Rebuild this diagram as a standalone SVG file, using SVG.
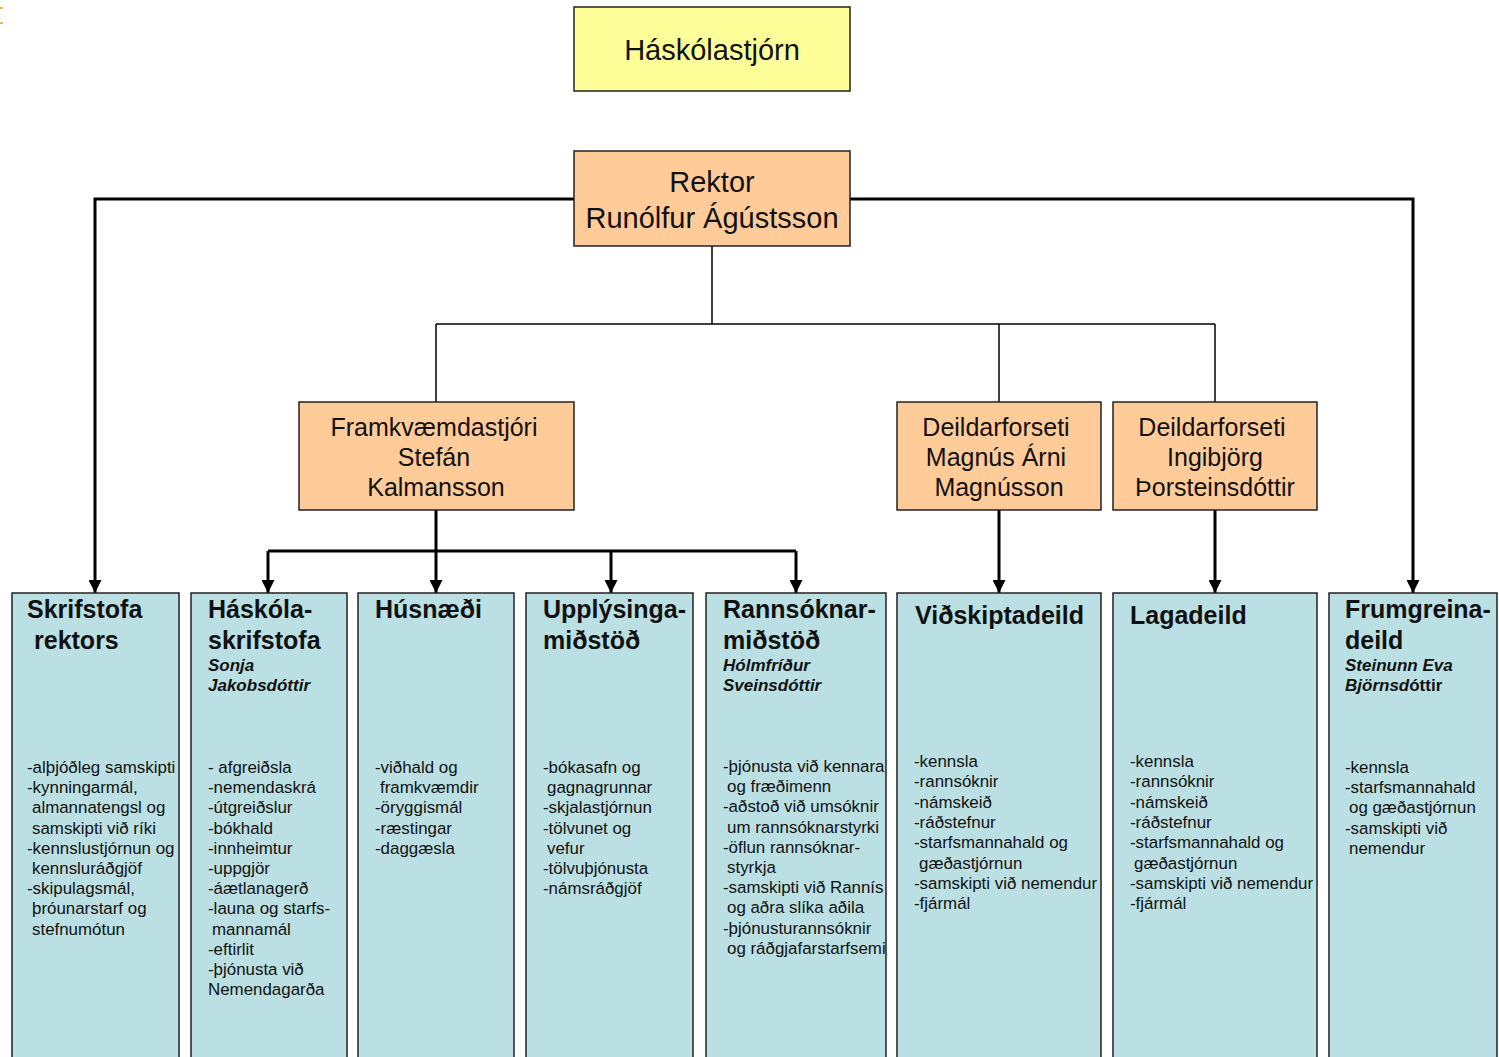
<svg xmlns="http://www.w3.org/2000/svg" width="1499" height="1057" viewBox="0 0 1499 1057">
<defs>
<style>
.box{stroke:#222;stroke-width:1.5}
.y{fill:#FFFF99}
.o{fill:#FFCC99}
.b{fill:#BBE0E3}
.t{font-family:"Liberation Sans",Arial,sans-serif;fill:#111}
.top{font-size:29px;text-anchor:middle}
.mid{font-size:25px;text-anchor:middle}
.h{font-size:25px;font-weight:bold}
.s{font-size:17px;font-weight:bold;font-style:italic}
.body{font-size:16.9px}
.thin{fill:none;stroke:#000;stroke-width:1.5}
.thick{fill:none;stroke:#000;stroke-width:3}
</style>
<marker id="ah" viewBox="0 0 10 10" refX="10" refY="5" markerWidth="13" markerHeight="13" markerUnits="userSpaceOnUse" orient="auto">
<path d="M0,0 L10,5 L0,10 z" fill="#000"/>
</marker>
<clipPath id="clipR"><rect x="706" y="593" width="180" height="470"/></clipPath>
</defs>
<rect width="1499" height="1057" fill="#fff"/>
<path d="M0,8 H3 M0,23 H3" stroke="#E0A800" stroke-width="1.5" fill="none"/>

<g id="connectors">
<path class="thick" d="M574,199 H95 V593" marker-end="url(#ah)"/>
<path class="thick" d="M850,199 H1413 V593" marker-end="url(#ah)"/>
<path class="thin" d="M712,246 V324"/>
<path class="thin" d="M436,324 H1215"/>
<path class="thin" d="M436,324 V402"/>
<path class="thin" d="M999,324 V402"/>
<path class="thin" d="M1215,324 V402"/>
<path class="thick" d="M436,510 V593" marker-end="url(#ah)"/>
<path class="thick" d="M268,551 H796"/>
<path class="thick" d="M268,551 V593" marker-end="url(#ah)"/>
<path class="thick" d="M611,551 V593" marker-end="url(#ah)"/>
<path class="thick" d="M796,551 V593" marker-end="url(#ah)"/>
<path class="thick" d="M999,510 V593" marker-end="url(#ah)"/>
<path class="thick" d="M1215,510 V593" marker-end="url(#ah)"/>
</g>

<g id="haskolastjorn">
<rect class="box y" x="574" y="7" width="276" height="84"/>
<text class="t top" x="712" y="60">Háskólastjórn</text>
</g>

<g id="rektor">
<rect class="box o" x="574" y="151" width="276" height="95"/>
<text class="t top" x="712" y="192">Rektor</text>
<text class="t top" x="712" y="228">Runólfur Ágústsson</text>
</g>

<g id="framkvaemdastjori">
<rect class="box o" x="299" y="402" width="275" height="108"/>
<text class="t mid" x="434" y="436">Framkvæmdastjóri</text>
<text class="t mid" x="434" y="466">Stefán</text>
<text class="t mid" x="436" y="496">Kalmansson</text>
</g>

<g id="deildarforseti-magnus">
<rect class="box o" x="897" y="402" width="204" height="108"/>
<text class="t mid" x="996" y="436">Deildarforseti</text>
<text class="t mid" x="996" y="466">Magnús Árni</text>
<text class="t mid" x="999" y="496">Magnússon</text>
</g>

<g id="deildarforseti-ingibjorg">
<rect class="box o" x="1113" y="402" width="204" height="108"/>
<text class="t mid" x="1212" y="436">Deildarforseti</text>
<text class="t mid" x="1215" y="466">Ingibjörg</text>
<text class="t mid" x="1215" y="496">Þorsteinsdóttir</text>
</g>

<g id="skrifstofa-rektors">
<rect class="box b" x="12" y="593" width="167" height="480"/>
<text class="t h" x="27" y="618">Skrifstofa</text>
<text class="t h" x="34" y="649">rektors</text>
<text class="t body" y="773">
<tspan x="27">-alþjóðleg samskipti</tspan>
<tspan x="27" dy="20.2">-kynningarmál,</tspan>
<tspan x="32" dy="20.2">almannatengsl og</tspan>
<tspan x="32" dy="20.2">samskipti við ríki</tspan>
<tspan x="27" dy="20.2">-kennslustjórnun og</tspan>
<tspan x="32" dy="20.2">kennsluráðgjöf</tspan>
<tspan x="27" dy="20.2">-skipulagsmál,</tspan>
<tspan x="32" dy="20.2">þróunarstarf og</tspan>
<tspan x="32" dy="20.2">stefnumótun</tspan>
</text>
</g>

<g id="haskolaskrifstofa">
<rect class="box b" x="191" y="593" width="156" height="480"/>
<text class="t h" x="208" y="618">Háskóla-</text>
<text class="t h" x="208" y="649">skrifstofa</text>
<text class="t s" x="208" y="671">Sonja</text>
<text class="t s" x="208" y="691">Jakobsdóttir</text>
<text class="t body" y="773">
<tspan x="208">- afgreiðsla</tspan>
<tspan x="208" dy="20.2">-nemendaskrá</tspan>
<tspan x="208" dy="20.2">-útgreiðslur</tspan>
<tspan x="208" dy="20.2">-bókhald</tspan>
<tspan x="208" dy="20.2">-innheimtur</tspan>
<tspan x="208" dy="20.2">-uppgjör</tspan>
<tspan x="208" dy="20.2">-áætlanagerð</tspan>
<tspan x="208" dy="20.2">-launa og starfs-</tspan>
<tspan x="212" dy="20.2">mannamál</tspan>
<tspan x="208" dy="20.2">-eftirlit</tspan>
<tspan x="208" dy="20.2">-þjónusta við</tspan>
<tspan x="208" dy="20.2">Nemendagarða</tspan>
</text>
</g>

<g id="husnaedi">
<rect class="box b" x="358" y="593" width="156" height="480"/>
<text class="t h" x="375" y="618">Húsnæði</text>
<text class="t body" y="773">
<tspan x="375">-viðhald og</tspan>
<tspan x="380" dy="20.2">framkvæmdir</tspan>
<tspan x="375" dy="20.2">-öryggismál</tspan>
<tspan x="375" dy="20.2">-ræstingar</tspan>
<tspan x="375" dy="20.2">-daggæsla</tspan>
</text>
</g>

<g id="upplysingamidstod">
<rect class="box b" x="526" y="593" width="167" height="480"/>
<text class="t h" x="543" y="618">Upplýsinga-</text>
<text class="t h" x="543" y="649">miðstöð</text>
<text class="t body" y="773">
<tspan x="543">-bókasafn og</tspan>
<tspan x="547" dy="20.2">gagnagrunnar</tspan>
<tspan x="543" dy="20.2">-skjalastjórnun</tspan>
<tspan x="543" dy="20.2">-tölvunet og</tspan>
<tspan x="547" dy="20.2">vefur</tspan>
<tspan x="543" dy="20.2">-tölvuþjónusta</tspan>
<tspan x="543" dy="20.2">-námsráðgjöf</tspan>
</text>
</g>

<g id="rannsoknarmidstod">
<rect class="box b" x="706" y="593" width="180" height="480"/>
<text class="t h" x="723" y="618">Rannsóknar-</text>
<text class="t h" x="723" y="649">miðstöð</text>
<text class="t s" x="723" y="671">Hólmfríður</text>
<text class="t s" x="723" y="691">Sveinsdóttir</text>
<text class="t body" y="772" clip-path="url(#clipR)">
<tspan x="723">-þjónusta við kennara</tspan>
<tspan x="727" dy="20.2">og fræðimenn</tspan>
<tspan x="723" dy="20.2">-aðstoð við umsóknir</tspan>
<tspan x="727" dy="20.2">um rannsóknarstyrki</tspan>
<tspan x="723" dy="20.2">-öflun rannsóknar-</tspan>
<tspan x="727" dy="20.2">styrkja</tspan>
<tspan x="723" dy="20.2">-samskipti við Rannís</tspan>
<tspan x="727" dy="20.2">og aðra slíka aðila</tspan>
<tspan x="723" dy="20.2">-þjónusturannsóknir</tspan>
<tspan x="727" dy="20.2">og ráðgjafarstarfsemi</tspan>
</text>
</g>

<g id="vidskiptadeild">
<rect class="box b" x="897" y="593" width="204" height="480"/>
<text class="t h" x="915" y="624">Viðskiptadeild</text>
<text class="t body" y="767">
<tspan x="914">-kennsla</tspan>
<tspan x="914" dy="20.3">-rannsóknir</tspan>
<tspan x="914" dy="20.3">-námskeið</tspan>
<tspan x="914" dy="20.3">-ráðstefnur</tspan>
<tspan x="914" dy="20.3">-starfsmannahald og</tspan>
<tspan x="919" dy="20.3">gæðastjórnun</tspan>
<tspan x="914" dy="20.3">-samskipti við nemendur</tspan>
<tspan x="914" dy="20.3">-fjármál</tspan>
</text>
</g>

<g id="lagadeild">
<rect class="box b" x="1113" y="593" width="204" height="480"/>
<text class="t h" x="1130" y="624">Lagadeild</text>
<text class="t body" y="767">
<tspan x="1130">-kennsla</tspan>
<tspan x="1130" dy="20.3">-rannsóknir</tspan>
<tspan x="1130" dy="20.3">-námskeið</tspan>
<tspan x="1130" dy="20.3">-ráðstefnur</tspan>
<tspan x="1130" dy="20.3">-starfsmannahald og</tspan>
<tspan x="1134" dy="20.3">gæðastjórnun</tspan>
<tspan x="1130" dy="20.3">-samskipti við nemendur</tspan>
<tspan x="1130" dy="20.3">-fjármál</tspan>
</text>
</g>

<g id="frumgreinadeild">
<rect class="box b" x="1329" y="593" width="168" height="480"/>
<text class="t h" x="1345" y="618">Frumgreina-</text>
<text class="t h" x="1345" y="649">deild</text>
<text class="t s" x="1345" y="671">Steinunn Eva</text>
<text class="t s" x="1345" y="691">Björnsd<tspan font-style="normal">óttir</tspan></text>
<text class="t body" y="773">
<tspan x="1345">-kennsla</tspan>
<tspan x="1345" dy="20.2">-starfsmannahald</tspan>
<tspan x="1349" dy="20.2">og gæðastjórnun</tspan>
<tspan x="1345" dy="20.2">-samskipti við</tspan>
<tspan x="1349" dy="20.2">nemendur</tspan>
</text>
</g>
</svg>
